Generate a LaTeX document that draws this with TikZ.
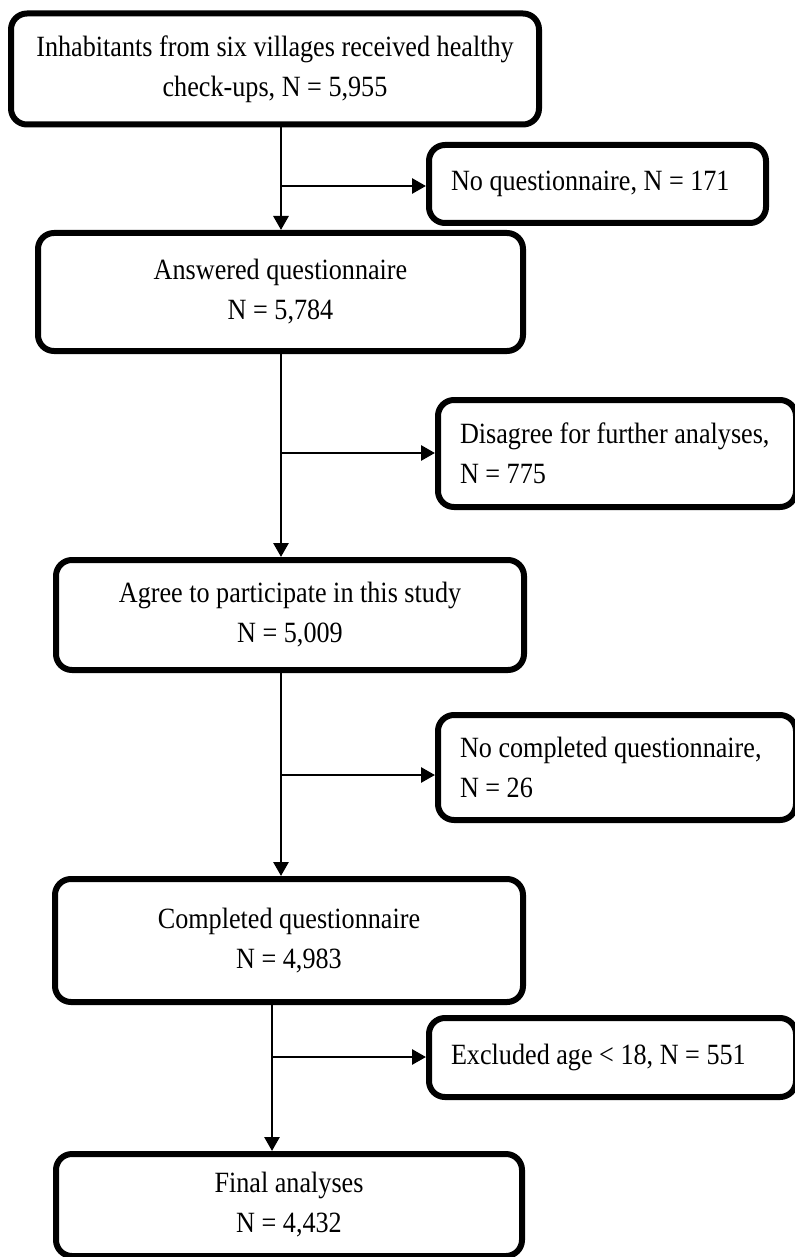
\documentclass[tikz,border=0pt]{standalone}
\usepackage{fontspec}
\setmainfont{Liberation Serif}[FakeStretch=0.89]
\usetikzlibrary{arrows.meta}

\begin{document}
\begin{tikzpicture}[x=0.5pt,y=-0.5pt,
  mainbox/.style={draw,line width=3pt,rounded corners=8pt,align=center,inner sep=0pt,
    font=\fontsize{14.7pt}{20pt}\selectfont},
  sidebox/.style={draw,line width=3pt,rounded corners=8pt,align=flush left,inner sep=11pt,
    anchor=west,font=\fontsize{14.7pt}{20pt}\selectfont},
  link/.style={line width=1.4pt,-{Triangle[length=7pt,width=7.5pt]}}]
\useasboundingbox (0,0) rectangle (795,1257);
\coordinate (S1) at (281,0);
\coordinate (S2) at (272,0);
\coordinate (J1) at (281,186);
\coordinate (J2) at (281,453);
\coordinate (J3) at (281,775);
\coordinate (J4) at (272,1057);

\node[mainbox,minimum width=264pt,minimum height=55.5pt] (B1) at (275,69)
  {Inhabitants from six villages received healthy\\check-ups, N = 5,955};
\node[mainbox,minimum width=242.5pt,minimum height=59pt] (B2) at (280.5,292)
  {Answered questionnaire\\N = 5,784};
\node[mainbox,minimum width=234pt,minimum height=55pt] (B3) at (290,615)
  {Agree to participate in this study\\N = 5,009};
\node[mainbox,minimum width=234pt,minimum height=61.5pt] (B4) at (289,940.5)
  {Completed questionnaire\\N = 4,983};
\node[mainbox,minimum width=233pt,minimum height=51pt] (B5) at (289,1205)
  {Final analyses\\N = 4,432};

\node[sidebox,text width=146.5pt,minimum height=39pt] (E1) at (426,184)
  {No questionnaire, N = 171};
\node[sidebox,text width=157pt,minimum height=53.5pt] (E2) at (435,453.5)
  {Disagree for further analyses,\\N = 775};
\node[sidebox,text width=157pt,minimum height=52.5pt] (E3) at (435,767.5)
  {No completed questionnaire,\\N = 26};
\node[sidebox,text width=161.5pt,minimum height=39.5pt] (E4) at (426,1057.5)
  {Excluded age < 18, N = 551};

\draw[link] (B1.south -| S1) -- (B2.north -| S1);
\draw[link] (B2.south -| S1) -- (B3.north -| S1);
\draw[link] (B3.south -| S1) -- (B4.north -| S1);
\draw[link] (B4.south -| S2) -- (B5.north -| S2);

\draw[link] (J1) -- (E1.west |- J1);
\draw[link] (J2) -- (E2.west |- J2);
\draw[link] (J3) -- (E3.west |- J3);
\draw[link] (J4) -- (E4.west |- J4);
\end{tikzpicture}
\end{document}
